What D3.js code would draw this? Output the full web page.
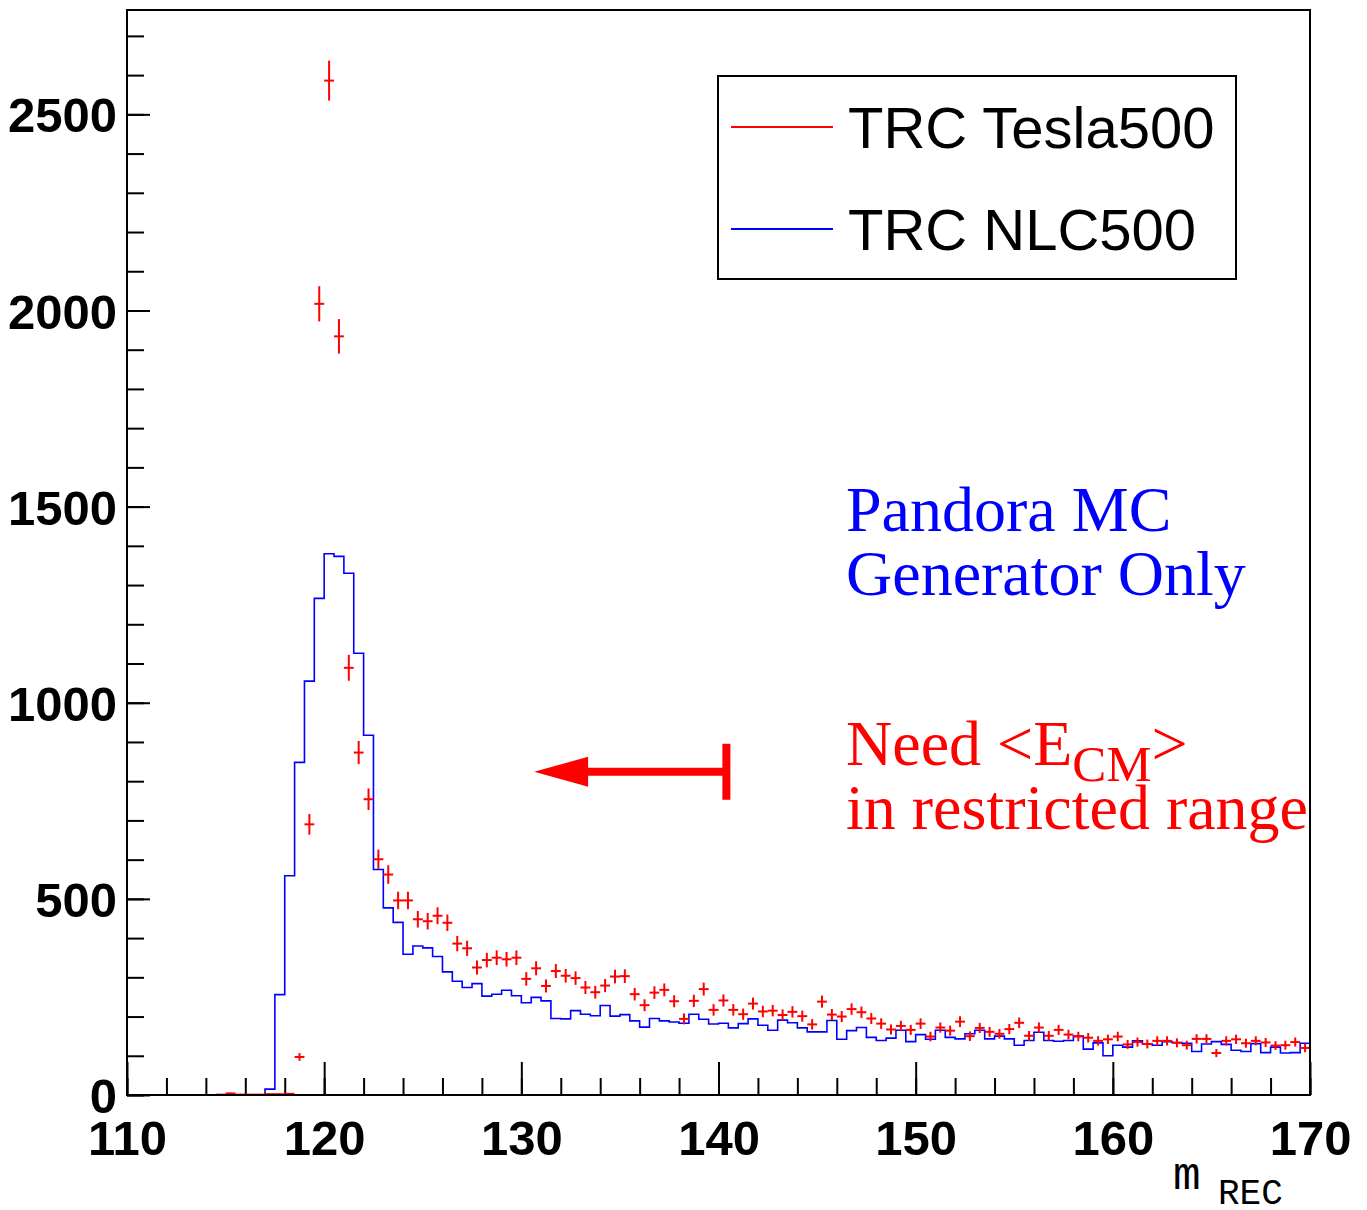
<!DOCTYPE html>
<html>
<head>
<meta charset="utf-8">
<script src="https://cdn.jsdelivr.net/npm/d3@7"></script>
<style>
  body { margin: 0; background: #fff; }
  svg { display: block; }
</style>
</head>
<body>
<div id="chart"></div>
<script>
// histogram bins: 120 bins of 0.5 from 110 to 170 (lower edges)
const binWidth = 0.5;
const binStarts = d3.range(120).map(i => 110 + i * binWidth);

// TRC NLC500 (blue histogram), one value per bin
const nlcValues = [
  0, 0, 0, 0, 0, 0, 0, 0, 0, 0, 0, 0, 0, 0,
  15, 256, 559, 848, 1055, 1266, 1380, 1373, 1330, 1126,
  917, 575, 477, 440, 359, 380, 375, 353, 314, 290,
  274, 284, 252, 257, 267, 253, 235, 249, 240, 195,
  194, 215, 206, 202, 228, 201, 205, 189, 173, 195,
  189, 186, 183, 206, 193, 181, 183, 171, 182, 194,
  178, 165, 191, 184, 171, 161, 161, 190, 142, 164,
  172, 147, 139, 145, 165, 136, 154, 142, 165, 147,
  143, 156, 165, 143, 150, 143, 127, 139, 160, 139,
  137, 139, 150, 117, 133, 100, 127, 122, 138, 130,
  127, 136, 134, 132, 111, 130, 136, 129, 114, 111,
  131, 108, 122, 107, 108, 132
];

// TRC Tesla500 (red points with errors), one value per bin
const teslaValues = [
  0, 0, 0, 0, 0, 0, 0, 0, 0,
  1, 4, 1, 1, 1, 2, 2, 3, 97, 690, 2017,
  2586, 1934, 1089, 873, 754, 601, 562, 496, 496, 448,
  443, 457, 439, 386, 374, 325, 344, 350, 346, 350,
  296, 323, 278, 316, 304, 298, 274, 262, 279, 302,
  303, 257, 229, 261, 268, 239, 194, 240, 270, 217,
  241, 217, 206, 233, 213, 215, 204, 212, 201, 180,
  238, 205, 200, 219, 211, 195, 182, 167, 176, 166,
  182, 149, 172, 164, 187, 150, 171, 161, 156, 168,
  184, 151, 172, 151, 166, 154, 149, 146, 138, 142,
  149, 129, 135, 130, 138, 138, 133, 127, 143, 143,
  107, 138, 142, 132, 138, 134, 126, 127, 135, 120
];

const xMajorTicks = [110, 120, 130, 140, 150, 160, 170];
const yMajorTicks = [0, 500, 1000, 1500, 2000, 2500];
const legendLabels = ["TRC Tesla500", "TRC NLC500"];

const width = 1367, height = 1210;
const margin = {left: 127, top: 10, right: 57, bottom: 115};
const plotW = width - margin.left - margin.right;
const plotH = height - margin.top - margin.bottom;

const svg = d3.select("#chart")
  .append("svg")
  .attr("width", width)
  .attr("height", height);

svg.append("rect").attr("width", width).attr("height", height).attr("fill", "#fff");

const g = svg.append("g").attr("transform", `translate(${margin.left},${margin.top})`);

const x = d3.scaleLinear().domain([110, 170]).range([0, plotW]);
const y = d3.scaleLinear().domain([0, 2766]).range([plotH, 0]);

const tickFont = "'Liberation Sans', Arial, Helvetica, sans-serif";

// minor ticks
g.append("g")
  .attr("transform", `translate(0,${plotH})`)
  .call(d3.axisBottom(x).tickValues(d3.range(110, 171, 2)).tickSize(-17).tickFormat(""))
  .call(a => a.select(".domain").remove())
  .selectAll("line").attr("stroke", "#000").attr("stroke-width", 2);

g.append("g")
  .call(d3.axisLeft(y).tickValues(d3.range(0, 2766, 100)).tickSize(-17).tickFormat(""))
  .call(a => a.select(".domain").remove())
  .selectAll("line").attr("stroke", "#000").attr("stroke-width", 2);

// major ticks + labels
const xAxis = g.append("g")
  .attr("transform", `translate(0,${plotH})`)
  .call(d3.axisBottom(x).tickValues(xMajorTicks).tickSize(-33).tickPadding(25).tickFormat(d3.format("d")));
xAxis.select(".domain").remove();
xAxis.selectAll("line").attr("stroke", "#000").attr("stroke-width", 2);
xAxis.selectAll("text")
  .attr("font-family", tickFont).attr("font-weight", "bold").attr("font-size", 49).attr("fill", "#000");

const yAxis = g.append("g")
  .call(d3.axisLeft(y).tickValues(yMajorTicks).tickSize(-23).tickPadding(10).tickFormat(d3.format("d")));
yAxis.select(".domain").remove();
yAxis.selectAll("line").attr("stroke", "#000").attr("stroke-width", 2);
yAxis.selectAll("text")
  .attr("font-family", tickFont).attr("font-weight", "bold").attr("font-size", 49).attr("fill", "#000")
  .attr("dy", "0.36em");

// blue histogram as steps
const histPts = binStarts.map((b, i) => ({x: b, v: nlcValues[i]}));
histPts.push({x: 170, v: nlcValues[nlcValues.length - 1]});
histPts.push({x: 170, v: 0});

const step = d3.line()
  .x(d => x(d.x))
  .y(d => y(d.v))
  .curve(d3.curveStepAfter);

g.append("path")
  .datum(histPts)
  .attr("fill", "none")
  .attr("stroke", "#0000ff")
  .attr("stroke-width", 1.6)
  .attr("d", step);

// red points: bin-width bar + poisson error bar (sqrt N, like ROOT)
const pts = binStarts.map((b, i) => ({x0: b, x1: b + binWidth, v: teslaValues[i]}))
  .filter(d => d.v > 0);

const pg = g.append("g").attr("stroke", "#ff0000").attr("stroke-width", 2);
pg.selectAll(".hbar")
  .data(pts)
  .join("line")
  .attr("x1", d => x(d.x0)).attr("x2", d => x(d.x1))
  .attr("y1", d => y(d.v)).attr("y2", d => y(d.v));
pg.selectAll(".vbar")
  .data(pts)
  .join("line")
  .attr("x1", d => x(d.x0 + binWidth / 2)).attr("x2", d => x(d.x0 + binWidth / 2))
  .attr("y1", d => y(d.v - Math.sqrt(d.v))).attr("y2", d => y(d.v + Math.sqrt(d.v)));

// frame
g.append("rect")
  .attr("width", plotW).attr("height", plotH)
  .attr("fill", "none").attr("stroke", "#000").attr("stroke-width", 2);

// axis title m_REC
const monoFont = "'Liberation Mono', 'Courier New', monospace";
svg.append("text").attr("x", 1173).attr("y", 1189)
  .attr("font-family", monoFont).attr("font-size", 46).text("m");
svg.append("text").attr("x", 1218).attr("y", 1204)
  .attr("font-family", monoFont).attr("font-size", 36).text("REC");

// legend
const legend = svg.append("g");
legend.append("rect")
  .attr("x", 718).attr("y", 76).attr("width", 518).attr("height", 203)
  .attr("fill", "#fff").attr("stroke", "#000").attr("stroke-width", 2);
const legColors = ["#ff0000", "#0000ff"];
const legRows = [127, 229];
legendLabels.forEach((lab, i) => {
  legend.append("line")
    .attr("x1", 731).attr("x2", 833).attr("y1", legRows[i]).attr("y2", legRows[i])
    .attr("stroke", legColors[i]).attr("stroke-width", 2);
  legend.append("text")
    .attr("x", 848).attr("y", legRows[i] + 21)
    .attr("font-family", tickFont).attr("font-size", 58).attr("fill", "#000")
    .text(lab);
});

// annotations
const serif = "'Liberation Serif', 'Times New Roman', serif";
svg.append("text").attr("x", 846).attr("y", 531)
  .attr("font-family", serif).attr("font-size", 64).attr("fill", "#0000ff").text("Pandora MC");
svg.append("text").attr("x", 846).attr("y", 595)
  .attr("font-family", serif).attr("font-size", 64).attr("fill", "#0000ff").text("Generator Only");

const need = svg.append("text").attr("x", 846).attr("y", 765)
  .attr("font-family", serif).attr("font-size", 64).attr("fill", "#ff0000");
need.append("tspan").text("Need <E");
need.append("tspan").attr("font-size", 51).attr("dy", 16).text("CM");
need.append("tspan").attr("dy", -16).text(">");
svg.append("text").attr("x", 846).attr("y", 829)
  .attr("font-family", serif).attr("font-size", 64).attr("fill", "#ff0000").text("in restricted range");

// arrow pointing to lower m_REC, in data units
const arrowFrom = 140.4, arrowTo = 130.65, arrowY = 824;
const ax0 = x(arrowFrom) + margin.left, ax1 = x(arrowTo) + margin.left, ay = y(arrowY) + margin.top;
svg.append("line")
  .attr("x1", ax0).attr("x2", ax1 + 50).attr("y1", ay).attr("y2", ay)
  .attr("stroke", "#ff0000").attr("stroke-width", 8);
svg.append("line")
  .attr("x1", ax0).attr("x2", ax0).attr("y1", ay - 28).attr("y2", ay + 28)
  .attr("stroke", "#ff0000").attr("stroke-width", 8);
svg.append("path")
  .attr("d", `M${ax1},${ay} L${ax1 + 54},${ay - 15} L${ax1 + 54},${ay + 15} Z`)
  .attr("fill", "#ff0000");
</script>
</body>
</html>
